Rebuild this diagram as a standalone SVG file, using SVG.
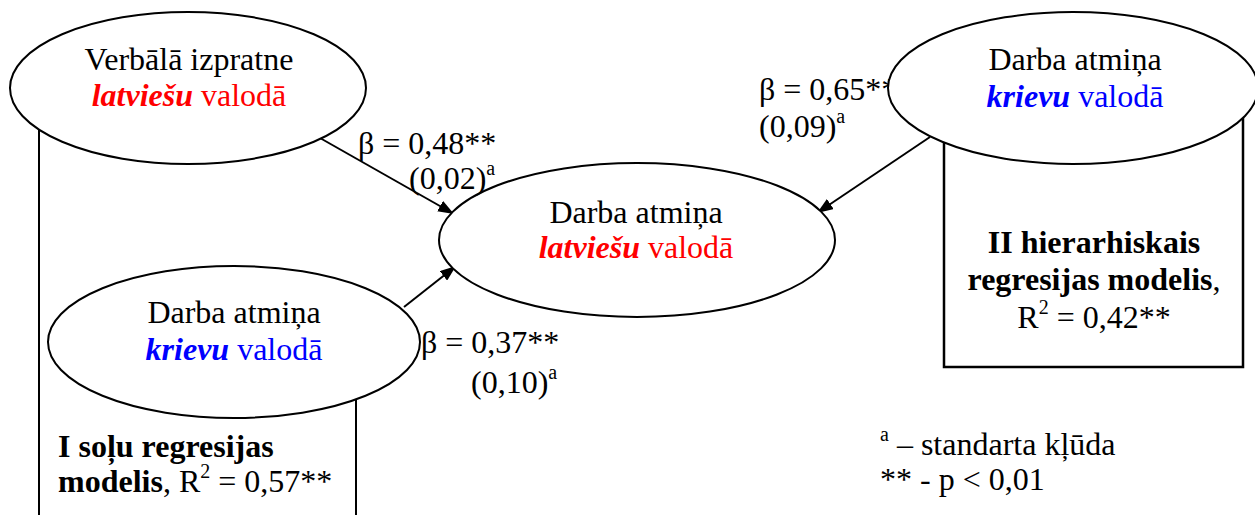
<svg xmlns="http://www.w3.org/2000/svg" width="1255" height="515" viewBox="0 0 1255 515">
<defs>
<style>
text{font-family:"Liberation Serif","Times New Roman",serif;font-size:32px;fill:#000}
.c{text-anchor:middle}
.b{font-weight:bold}
.bi{font-weight:bold;font-style:italic}
.red{fill:#ff0000}
.blue{fill:#0000ff}
.sup{font-size:20px}
.node{fill:#fff;stroke:#000;stroke-width:2}
.box{fill:#fff;stroke:#000;stroke-width:2.5}
.edge{stroke:#000;stroke-width:2;fill:none}
</style>
<marker id="arr" viewBox="0 0 16 12" refX="16" refY="6" markerWidth="16" markerHeight="12" markerUnits="userSpaceOnUse" orient="auto">
<path d="M0,0 L16,6 L0,12 z" fill="#000"/>
</marker>
</defs>
<g id="box-I">
<path class="edge" d="M39,100 V515 M356,340 V515" stroke-width="2.5"/>
</g>
<g id="box-II">
<rect class="box" x="944" y="100" width="299" height="267"/>
</g>
<g id="connectors">
<line class="edge" x1="320" y1="138" x2="454" y2="214" marker-end="url(#arr)"/>
<line class="edge" x1="404" y1="307" x2="456" y2="266" marker-end="url(#arr)"/>
<line class="edge" x1="930" y1="137" x2="817" y2="213" marker-end="url(#arr)"/>
</g>
<g id="label-065">
<text x="759" y="100">β = 0,65**</text>
<text x="759" y="137">(0,09)<tspan class="sup" dy="-14">a</tspan></text>
</g>
<g id="node-verbala">
<ellipse class="node" cx="188" cy="88" rx="178" ry="76"/>
<text class="c" x="189" y="70">Verbālā izpratne</text>
<text class="c red" x="189" y="106"><tspan class="bi">latviešu</tspan> valodā</text>
</g>
<g id="node-krievu-left">
<ellipse class="node" cx="234" cy="342" rx="186" ry="76"/>
<text class="c" x="234" y="323">Darba atmiņa</text>
<text class="c blue" x="234" y="360"><tspan class="bi">krievu</tspan> valodā</text>
</g>
<g id="node-center">
<ellipse class="node" cx="637" cy="240" rx="198" ry="77"/>
<text class="c" x="636" y="223">Darba atmiņa</text>
<text class="c red" x="636" y="258"><tspan class="bi">latviešu</tspan> valodā</text>
</g>
<g id="node-krievu-right">
<ellipse class="node" cx="1073" cy="88" rx="185" ry="76"/>
<text class="c" x="1075" y="70">Darba atmiņa</text>
<text class="c blue" x="1075" y="107"><tspan class="bi">krievu</tspan> valodā</text>
</g>
<g id="labels">
<text x="358" y="154">β = 0,48**</text>
<text x="409" y="189">(0,02)<tspan class="sup" dy="-14">a</tspan></text>
<text x="421" y="353">β = 0,37**</text>
<text x="471" y="393">(0,10)<tspan class="sup" dy="-14">a</tspan></text>
</g>
<g id="text-box-I">
<text x="58" y="457" class="b">I soļu regresijas</text>
<text x="58" y="492"><tspan class="b">modelis</tspan>, R<tspan class="sup" dy="-14">2</tspan><tspan dy="14"> = 0,57**</tspan></text>
</g>
<g id="text-box-II">
<text class="c b" x="1094" y="253">II hierarhiskais</text>
<text class="c" x="1094" y="290"><tspan class="b">regresijas modelis</tspan>,</text>
<text class="c" x="1094" y="328">R<tspan class="sup" dy="-14">2</tspan><tspan dy="14"> = 0,42**</tspan></text>
</g>
<g id="legend">
<text x="880" y="455"><tspan class="sup" dy="-14">a</tspan><tspan dy="14"> – standarta kļūda</tspan></text>
<text x="880" y="490">** - p &lt; 0,01</text>
</g>
</svg>
